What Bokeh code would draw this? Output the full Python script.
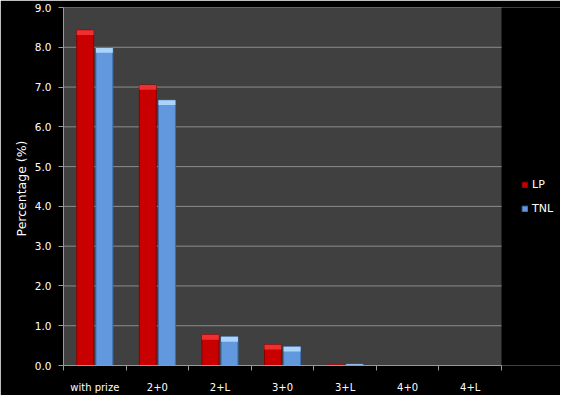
from bokeh.plotting import figure
from bokeh.models import (ColumnDataSource, FixedTicker, Legend, LegendItem,
                          Range1d, PrintfTickFormatter)
from bokeh.embed import file_html
from bokeh.resources import INLINE

categories = ["with prize", "2+0", "2+L", "3+0", "3+L", "4+0", "4+L"]
lp = [8.43, 7.05, 0.77, 0.52, 0.02, 0.0, 0.0]
tnl = [7.98, 6.67, 0.72, 0.47, 0.03, 0.0, 0.0]
y_ticks = [0, 1, 2, 3, 4, 5, 6, 7, 8, 9]
series_names = ["LP", "TNL"]

n = len(categories)
y_max = y_ticks[-1]
centers = [i + 0.5 for i in range(n)]
bar_w = 0.27
off = 0.153

W, H = 560, 395
left_b, right_b, top_b, bottom_b = 63, 59, 7, 26
plot_w = W - left_b - right_b
# frame extends into the right margin (legend area); data area is 0..n
x_end = n * (W - left_b) / plot_w

src_lp = ColumnDataSource(dict(x=[c - off for c in centers], top=lp,
                               cap=[max(v - 0.12, 0) for v in lp]))
src_tnl = ColumnDataSource(dict(x=[c + off for c in centers], top=tnl,
                                cap=[max(v - 0.12, 0) for v in tnl]))

p = figure(width=W, height=H, output_backend="svg", toolbar_location=None,
           x_range=Range1d(0, x_end), y_range=Range1d(0, y_max),
           min_border_left=left_b, min_border_right=0, min_border_top=top_b,
           min_border_bottom=bottom_b)
p.background_fill_color = "black"
p.border_fill_color = "black"
p.outline_line_color = None
p.xgrid.grid_line_color = None
p.ygrid.grid_line_color = None

# plot area (gray) and horizontal gridlines
p.quad(left=0, right=n, bottom=0, top=y_max, fill_color="#404040",
       line_color=None)
p.segment(x0=[0] * len(y_ticks), x1=[n] * len(y_ticks), y0=y_ticks,
          y1=y_ticks, line_color="#8c8c8c", line_width=1)

r_lp = p.vbar(x="x", top="top", bottom=0, width=bar_w, source=src_lp,
              fill_color="#c80000", line_color="#8a0000", line_width=1)
p.vbar(x="x", top="top", bottom="cap", width=bar_w, source=src_lp,
       fill_color="#f03030", line_color=None)
r_tnl = p.vbar(x="x", top="top", bottom=0, width=bar_w, source=src_tnl,
               fill_color="#6198de", line_color="#3f70b0", line_width=1)
p.vbar(x="x", top="top", bottom="cap", width=bar_w, source=src_tnl,
       fill_color="#acd4fa", line_color=None)

# axes
font = "DejaVu Sans"
p.xaxis.bounds = (0, n)
p.xaxis.ticker = FixedTicker(ticks=centers, minor_ticks=list(range(n + 1)))
p.xaxis.major_label_overrides = {c: lab for c, lab in zip(centers, categories)}
p.xaxis.major_tick_out = 0
p.xaxis.major_tick_in = 0
p.xaxis.minor_tick_out = 5
p.xaxis.minor_tick_in = 0
p.xaxis.minor_tick_line_color = "#999999"
p.xaxis.axis_line_color = "#999999"
p.xaxis.major_label_standoff = 11
p.xaxis.major_label_text_color = "white"
p.xaxis.major_label_text_font = font
p.xaxis.major_label_text_font_size = "10px"

p.yaxis.ticker = FixedTicker(ticks=y_ticks, minor_ticks=[])
p.yaxis.formatter = PrintfTickFormatter(format="%.1f")
p.yaxis.major_tick_out = 5
p.yaxis.major_tick_in = 0
p.yaxis.major_tick_line_color = "#999999"
p.yaxis.axis_line_color = "#999999"
p.yaxis.major_label_standoff = 7
p.yaxis.major_label_text_color = "white"
p.yaxis.major_label_text_font = font
p.yaxis.major_label_text_font_size = "10.5px"
p.yaxis.axis_label = "Percentage  (%)"
p.yaxis.axis_label_text_color = "white"
p.yaxis.axis_label_text_font = font
p.yaxis.axis_label_text_font_style = "normal"
p.yaxis.axis_label_text_font_size = "12.5px"
p.yaxis.axis_label_standoff = 3

legend = Legend(items=[LegendItem(label=series_names[0], renderers=[r_lp]),
                       LegendItem(label=series_names[1], renderers=[r_tnl])],
                location=(plot_w + 20, 150), margin=0, padding=4, spacing=11,
                glyph_width=7, glyph_height=7, label_standoff=4,
                label_text_color="white", label_text_font=font,
                label_text_font_size="11px", background_fill_color="black",
                background_fill_alpha=1, border_line_color=None)
p.add_layout(legend, "center")

open("out.html", "w").write(file_html(p, INLINE))
